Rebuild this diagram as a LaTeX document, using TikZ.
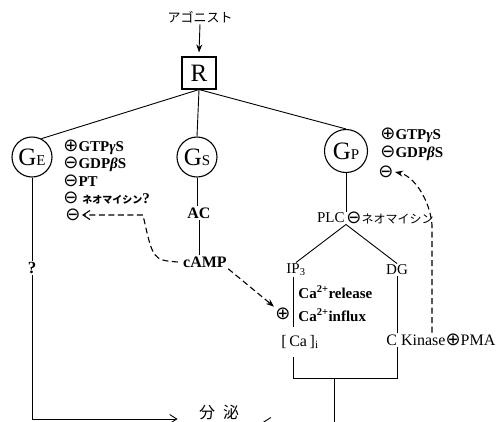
\documentclass[tikz,border=0pt]{standalone}
\usepackage{fontspec}
\setmainfont{Liberation Serif}
\newfontfamily\jp{Noto Sans CJK JP}
\newfontfamily\symf{DejaVu Sans}
\usetikzlibrary{arrows.meta,calc}
\newcommand\cpl{{\symf\mdseries\fontsize{18}{15}\selectfont ⊕}}
\newcommand\cmi{{\symf\mdseries\fontsize{18}{15}\selectfont ⊖}}
\newcommand\gtxt[1]{{\fontsize{25}{25}\selectfont G}{\fontsize{15}{15}\selectfont #1}}
\begin{document}
\begin{tikzpicture}[x=1pt,y=-1pt,line width=0.9pt,
  every node/.style={inner sep=1pt},
  bl/.style={font=\fontsize{15}{15}\selectfont\bfseries},
  rg/.style={font=\fontsize{15}{15}\selectfont},
  gnode/.style={circle,draw,line width=1.1pt,minimum size=40pt,inner sep=0pt},
  dsh/.style={dash pattern=on 6pt off 3.5pt,line width=1.1pt},
  barb/.style={-{Straight Barb[length=7pt,width=9pt]}},
  stl/.style={-{Stealth[length=8pt,width=6pt]}},
]
\useasboundingbox (0,0) rectangle (498,421);
% top
\node[font=\jp\fontsize{13}{13}\selectfont] (ago) at (200,17) {アゴニスト};
\node[draw,line width=1.1pt,minimum width=34pt,minimum height=32pt,inner sep=0pt,
      font=\fontsize{25}{25}\selectfont] (R) at (199,73) {R};
\draw[stl] (ago.south) -- ([yshift=4pt]R.north);
% G proteins
\node[gnode] (GE) at (32,157) {\gtxt{E}};
\node[gnode] (GS) at (197,157) {\gtxt{S}};
\node[gnode,minimum size=43pt] (GP) at (346,151) {\gtxt{P}};
\draw (R.south) -- (GE.63);
\draw (R.south) -- (GS.north);
\draw (R.south) -- (GP.north);
% GE modulators
\node[bl,anchor=west] (e1) at (62,147) {\cpl GTP\textit{γ}S};
\node[bl,anchor=west] (e2) at (62,164) {\cmi GDP\textit{β}S};
\node[bl,anchor=west] (e3) at (62,181) {\cmi PT};
\node[bl,anchor=west] (e4) at (62,198) {\cmi\ {\jp\fontsize{10}{10}\selectfont ネオマイシン}?};
\node[bl] (gem) at (73,215) {\cmi};
% GP modulators
\node[bl,anchor=west] (p1) at (379,135) {\cpl GTP\textit{γ}S};
\node[bl,anchor=west] (p2) at (379,153) {\cmi GDP\textit{β}S};
\node[bl] (gpm) at (386,172) {\cmi};
% Gs branch
\node[bl,font=\fontsize{16}{16}\selectfont\bfseries] (AC) at (199,213) {AC};
\node[bl,font=\fontsize{16}{16}\selectfont\bfseries] (camp) at (205,262) {cAMP};
\draw (GS.south) -- (GS.south |- AC.north);
\draw (AC.south) -- (AC.south |- camp.north);
% GE branch
\node[bl,font=\fontsize{17}{17}\selectfont\bfseries] (q) at (32,268) {?};
\node[inner sep=0pt,font=\jp\fontsize{16}{16}\selectfont] (sec) at (219,412) {分\hspace{8pt}泌};
\draw (GE.south) -- (q.north);
\draw[barb] (q.south) |- ([xshift=-21pt,yshift=-7pt]sec.west);
% Gp branch
\node[rg,anchor=east] (plc) at (346,218) {PLC};
\node[anchor=west,inner sep=0pt,font=\fontsize{15}{15}\selectfont] (neo) at (plc.east) {\cmi{\jp\fontsize{12}{12}\selectfont ネオマイシン}};
\draw (GP.south) -- (GP.south |- plc.north);
\coordinate (jn) at (GP.south |- plc.south);
\node[rg] (ip3) at (296,270) {IP\textsubscript{3}};
\node[rg] (dg) at (397,270) {DG};
\draw (ip3.north) -- (jn) -- (dg.north);
\node[bl,anchor=west] (carel) at (297,292) {Ca\textsuperscript{2+}release};
\node[bl,anchor=west] (cainf) at (297,315) {Ca\textsuperscript{2+}influx};
\node[bl] (cp) at (283,314) {\cpl};
\node[rg,minimum height=30pt,font=\fontsize{16}{16}\selectfont] (ca) at (300,342) {[\,Ca\,]\textsubscript{i}};
\node[anchor=west,font=\fontsize{16}{16}\selectfont] (ckin) at (385,340) {C Kinase\cpl PMA};
\coordinate (bL) at (293,378);
\coordinate (bR) at (397,378);
\coordinate (bM) at (334,378);
\coordinate (arrR) at (263,422);
\draw ([xshift=-3pt]ip3.south) -- ([xshift=-3pt]ip3.south |- ca.north);
\draw (bL |- ca.south) -- (bL) -- (bR) -- (bR |- ckin.south);
\draw (dg.south) -- (dg.south |- ckin.north);
\draw[barb] (bM) |- (arrR);
% dashed feedbacks
\coordinate (bendL) at (143,215);
\coordinate (dtop) at (432,225);
\draw[dsh,barb] ([xshift=-4pt]camp.west) .. controls (153,260) .. (bendL) -- (gem.east);
\draw[dsh,stl] (camp.south east) -- (cp.north west);
\draw[dsh,stl] (dtop |- ckin.north) -- (dtop) .. controls (430,200) and (414,176) .. (gpm.east);
\end{tikzpicture}
\end{document}
